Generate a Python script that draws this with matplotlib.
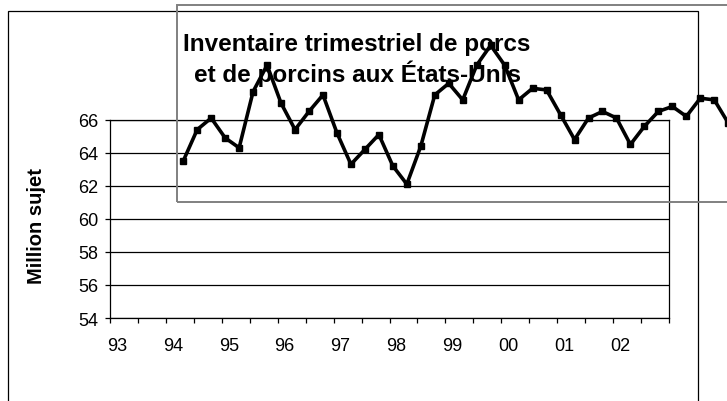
import numpy as np
import matplotlib.pyplot as plt
from matplotlib.patches import Rectangle
from matplotlib.ticker import FixedLocator, NullFormatter

plt.rcParams['font.family'] = ['Liberation Sans', 'DejaVu Sans']

# quarterly US hog and pig inventory, million head
inventory = [63.5, 65.4, 66.1, 64.9, 64.3, 67.7, 69.3, 67.0, 65.4, 66.5,
             67.5, 65.2, 63.3, 64.2, 65.1, 63.2, 62.1, 64.4, 67.5, 68.2,
             67.2, 69.3, 70.5, 69.3, 67.2, 67.9, 67.8, 66.3, 64.8, 66.1,
             66.5, 66.1, 64.5, 65.6, 66.5, 66.8, 66.2, 67.3, 67.2, 65.8]
first_quarter = 1994.31
years = list(range(1993, 2003))
year_labels = ['93', '94', '95', '96', '97', '98', '99', '00', '01', '02']
y_ticks = [54, 56, 58, 60, 62, 64, 66]

W, H = 727, 402
fig = plt.figure(figsize=(W / 100, H / 100), dpi=100)

# axes box placed in pixel terms (66 at top edge, 54 at bottom edge)
left, right, top, bottom = 110, 669, 120.7, 319
ax = fig.add_axes([left / W, 1 - bottom / H, (right - left) / W, (bottom - top) / H])

x = first_quarter + 0.25 * np.arange(len(inventory))
ax.plot(x, inventory, color='black', lw=2.6, marker='s', ms=5,
        clip_on=False, zorder=5)

ax.set_xlim(1993, 2003)
ax.set_ylim(54, 66)
ax.set_yticks(y_ticks)
ax.yaxis.grid(True, color='black', lw=0.9)
ax.set_axisbelow(True)
ax.tick_params(axis='y', direction='out', length=3.6, width=0.9, pad=5,
               labelsize=13)

# half-year tick marks, year labels shifted into the first quarter
ax.xaxis.set_major_locator(FixedLocator(np.arange(1993, 2003.01, 0.5)))
ax.xaxis.set_major_formatter(NullFormatter())
ax.set_xticks([yr + 0.125 for yr in years], year_labels, minor=True)
ax.tick_params(axis='x', which='major', direction='out', length=3.6, width=0.9)
ax.tick_params(axis='x', which='minor', length=0, pad=14, labelsize=13)

for s in ax.spines.values():
    s.set_color('black')
    s.set_linewidth(0.9)

fig.text(36 / W, 1 - 226 / H, 'Million sujet', rotation=90, ha='center',
         va='center', fontsize=14.5, fontweight='bold')

# outer chart frame and the displaced grey plot frame
fig.add_artist(Rectangle((8 / W, -0.1), (698 - 8) / W, 1.1 - 11.7 / H,
                         transform=fig.transFigure, fill=False,
                         edgecolor='black', lw=0.9, zorder=3))
fig.add_artist(Rectangle((177 / W, 1 - 203 / H), 0.9, (203 - 5.5) / H,
                         transform=fig.transFigure, fill=False,
                         edgecolor='#808080', lw=1.4, zorder=3))

fig.text(357 / W, 1 - 60 / H, 'Inventaire trimestriel de porcs\net de porcins aux États-Unis',
         ha='center', va='center', fontsize=17.5, fontweight='bold',
         linespacing=1.25, zorder=4)

fig.savefig('out.png', dpi=100)
